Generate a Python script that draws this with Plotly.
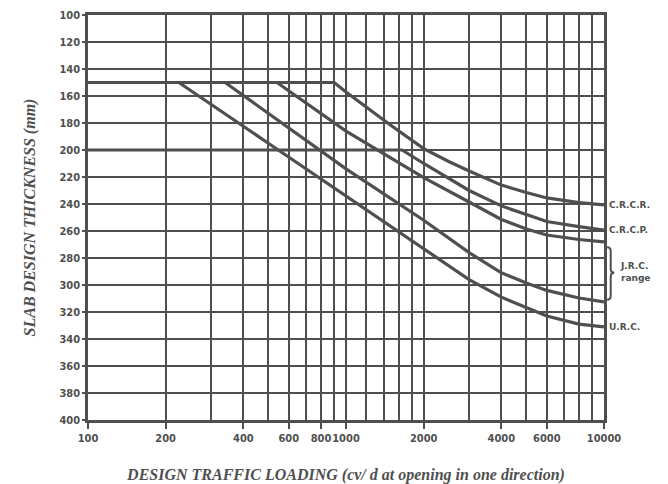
import plotly.graph_objects as go

# ---- data ----
x_crcr = [100, 900, 1000, 1500, 2000, 2500, 3000, 4000, 5000, 6000, 8000, 10000]
y_crcr = [150, 150, 157, 182, 199, 208.5, 215.5, 226, 231.5, 235.5, 239, 240.7]

x_crcp = [100, 1650, 2000, 3000, 4000, 5000, 6000, 8000, 10000]
y_crcp = [200, 200, 210, 230, 241.4, 247.8, 253, 256.7, 259.3]

x_jrc_upper = [100, 540, 1000, 2000, 3000, 4000, 5000, 6000, 8000, 10000]
y_jrc_upper = [150, 150, 186, 220.5, 238.5, 251.5, 258.5, 263, 266.3, 268]

x_jrc_lower = [100, 340, 1000, 2000, 3000, 4000, 5000, 6000, 8000, 10000]
y_jrc_lower = [150, 150, 214, 252, 276, 291, 298.5, 304, 309.6, 312.5]

x_urc = [100, 225, 500, 1000, 2000, 3000, 4000, 5000, 6000, 8000, 10000]
y_urc = [150, 150, 195, 234, 273, 296, 309, 317, 323, 329, 331]

x_tick_vals = [100, 200, 400, 600, 800, 1000, 2000, 4000, 6000, 10000]
x_tick_text = ["100", "200", "400", "600", "800", "1000", "2000", "4000", "6000", "10000"]
x_minor_vals = [300, 500, 700, 900, 1200, 1400, 1600, 1800, 3000, 5000, 7000, 8000, 9000]
y_tick_vals = list(range(100, 401, 20))

curve_labels = ["C.R.C.R.", "C.R.C.P.", "J.R.C.<br>range", "U.R.C."]
curve_label_y = [240.7, 259.3, 290, 331]

INK = "#4f4f4f"

fig = go.Figure()
for xs, ys, nm in [(x_crcr, y_crcr, "C.R.C.R."), (x_crcp, y_crcp, "C.R.C.P."),
                   (x_jrc_upper, y_jrc_upper, "J.R.C. upper"),
                   (x_jrc_lower, y_jrc_lower, "J.R.C. lower"),
                   (x_urc, y_urc, "U.R.C.")]:
    fig.add_trace(go.Scatter(x=xs, y=ys, mode="lines", name=nm,
                             line=dict(color=INK, width=3.2),
                             showlegend=False, hoverinfo="x+y+name"))

tick_font = dict(family="DejaVu Sans Condensed", size=11, color=INK, weight="bold")
title_font = dict(family="Liberation Serif", size=16, color=INK, style="italic", weight="bold")

fig.update_xaxes(type="log", range=[2, 4], automargin=False,
                 tickmode="array", tickvals=x_tick_vals, ticktext=x_tick_text, tickangle=0,
                 ticks="outside", ticklen=6, tickwidth=2, tickcolor=INK,
                 showgrid=True, gridcolor=INK, gridwidth=2,
                 minor=dict(tickmode="array", tickvals=x_minor_vals, showgrid=True,
                            gridcolor=INK, gridwidth=2, ticks=""),
                 showline=True, linecolor=INK, linewidth=2.5, mirror=True,
                 tickfont=tick_font, zeroline=False,
                 title=dict(text="DESIGN TRAFFIC LOADING (cv/ d at opening in one direction)",
                            font=title_font, standoff=26))
fig.update_yaxes(range=[400, 100], tickmode="array", tickvals=y_tick_vals, automargin=False,
                 ticks="outside", ticklen=3, tickwidth=2, tickcolor=INK,
                 showgrid=True, gridcolor=INK, gridwidth=2,
                 showline=True, linecolor=INK, linewidth=2.5, mirror=True,
                 tickfont=tick_font, zeroline=False,
                 title=dict(text="SLAB DESIGN THICKNESS (mm)", font=title_font, standoff=20))

label_font = dict(family="DejaVu Sans", size=9, color=INK, weight="bold")
for txt, yv in zip(curve_labels, curve_label_y):
    shift = 14 if "range" in txt else 3
    fig.add_annotation(x=1, xref="paper", y=yv, yref="y", text=txt, showarrow=False,
                       xanchor="left", yanchor="middle", xshift=shift, align="left",
                       font=label_font)

# curly brace marking the J.R.C. range
yt, ym, yb = 272, 291, 311
x0, x1, x2 = 1.006, 1.013, 1.02
d = 3
brace = (f"M {x0},{yt} Q {x1},{yt} {x1},{yt+d} L {x1},{ym-d} Q {x1},{ym} {x2},{ym} "
         f"Q {x1},{ym} {x1},{ym+d} L {x1},{yb-d} Q {x1},{yb} {x0},{yb}")
fig.add_shape(type="path", path=brace, xref="paper", yref="y",
              line=dict(color=INK, width=2))

fig.update_layout(width=660, height=476, plot_bgcolor="white", paper_bgcolor="white",
                  margin=dict(l=80, r=64, t=7, b=64), showlegend=False)

fig.write_html("out.html")
